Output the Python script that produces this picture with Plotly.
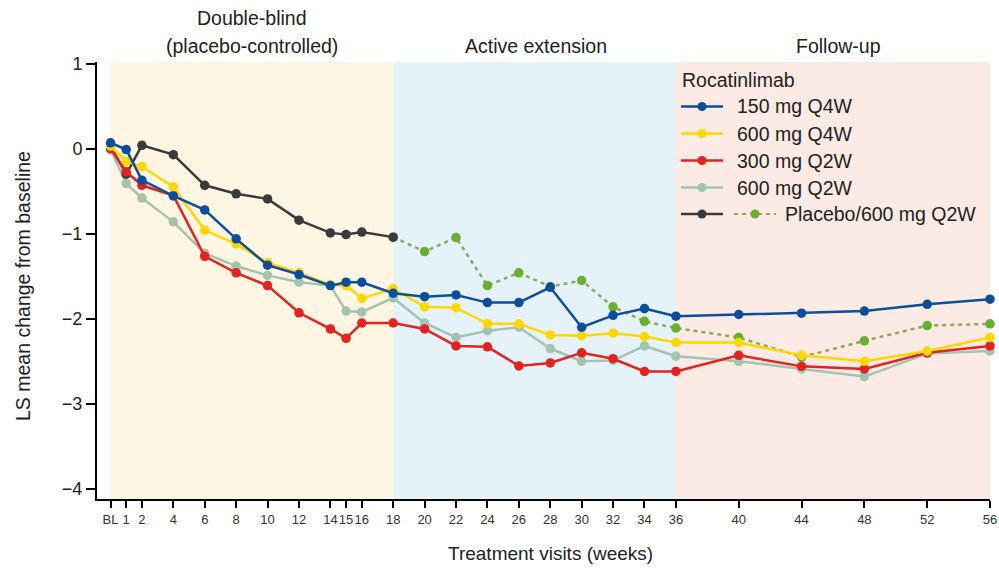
import plotly.graph_objects as go

# ---------------- data ----------------
weeks = [0, 1, 2, 4, 6, 8, 10, 12, 14, 15, 16, 18, 20, 22, 24, 26, 28, 30, 32, 34, 36, 40, 44, 48, 52, 56]
tick_labels = ["BL", "1", "2", "4", "6", "8", "10", "12", "14", "15", "16", "18", "20", "22", "24", "26",
               "28", "30", "32", "34", "36", "40", "44", "48", "52", "56"]

mg150_q4w = [0.07, -0.01, -0.37, -0.555, -0.72, -1.06, -1.37, -1.48, -1.61, -1.57, -1.57, -1.70, -1.74, -1.72,
             -1.81, -1.81, -1.63, -2.10, -1.96, -1.88, -1.97, -1.95, -1.935, -1.91, -1.83, -1.77]
mg600_q4w = [0.03, -0.15, -0.21, -0.45, -0.96, -1.12, -1.34, -1.46, -1.60, -1.61, -1.76, -1.645, -1.86, -1.87,
             -2.06, -2.06, -2.19, -2.20, -2.17, -2.21, -2.28, -2.28, -2.43, -2.50, -2.38, -2.22]
mg300_q2w = [0.0, -0.27, -0.43, -0.55, -1.265, -1.46, -1.61, -1.93, -2.12, -2.23, -2.05, -2.05, -2.12, -2.32,
             -2.33, -2.555, -2.52, -2.40, -2.47, -2.62, -2.62, -2.43, -2.56, -2.59, -2.40, -2.32]
mg600_q2w = [-0.01, -0.41, -0.58, -0.86, -1.23, -1.38, -1.49, -1.57, -1.61, -1.91, -1.92, -1.755, -2.05, -2.22,
             -2.14, -2.10, -2.35, -2.50, -2.49, -2.32, -2.44, -2.50, -2.59, -2.68, -2.41, -2.38]

placebo_weeks = [0, 1, 2, 4, 6, 8, 10, 12, 14, 15, 16, 18]
placebo = [0.03, -0.30, 0.04, -0.07, -0.43, -0.53, -0.59, -0.84, -0.99, -1.01, -0.98, -1.04]

switch_weeks = [18, 20, 22, 24, 26, 28, 30, 32, 34, 36, 40, 44, 48, 52, 56]
placebo_600 = [-1.04, -1.21, -1.045, -1.61, -1.46, -1.62, -1.55, -1.86, -2.03, -2.11, -2.22, -2.45, -2.26,
               -2.08, -2.06]

phase_starts = [0, 18, 36]
phase_ends = [18, 36, 56]
phase_colors = ["#FEF6E3", "#E6F2FA", "#FCEAE4"]

legend_title = "Rocatinlimab"
legend_names = ["150 mg Q4W", "600 mg Q4W", "300 mg Q2W", "600 mg Q2W", "Placebo/600 mg Q2W"]

# ---------------- styles ----------------
C_BLUE = "#0B4F9C"
C_YELLOW = "#FFD700"
C_RED = "#E3231F"
C_SAGE = "#A3C4AE"
C_DARK = "#3A3A3A"
C_GREEN_M = "#6AAF2E"
C_GREEN_L = "#8FA85C"
FONT = "Arial, Liberation Sans, sans-serif"
TXT = "#222"

W, H = 999, 571
PL, PR, PT, PB = 97, 990, 62, 499          # plot area in window pixels
ML, MR, MT, MB = PL, W - PR, PT, H - PB
PW, PH = W - ML - MR, H - MT - MB


def px(xp):
    return (xp - ML) / PW


def py(yp):
    return (H - MB - yp) / PH


fig = go.Figure()


def add_series(x, y, color, dash="solid", mcolor=None):
    fig.add_trace(go.Scatter(
        x=x, y=y, mode="lines+markers",
        line=dict(color=color, width=2.5, dash=dash),
        marker=dict(color=mcolor or color, size=9.5, line=dict(width=0)),
        showlegend=False, cliponaxis=False, hoverinfo="x+y"))


add_series(weeks, mg600_q2w, C_SAGE)
add_series(switch_weeks, placebo_600, C_GREEN_L, dash="4px,4px", mcolor=C_GREEN_M)
add_series(placebo_weeks, placebo, C_DARK)
add_series(weeks, mg300_q2w, C_RED)
add_series(weeks, mg600_q4w, C_YELLOW)
add_series(weeks, mg150_q4w, C_BLUE)

shapes = []
annotations = []
for x0, x1, col in zip(phase_starts, phase_ends, phase_colors):
    shapes.append(dict(type="rect", xref="x", yref="paper", x0=x0, x1=x1, y0=0, y1=1,
                       fillcolor=col, line=dict(width=0), layer="below"))


def text(t, xp, yp, size=19.5, xanchor="center"):
    annotations.append(dict(text=t, x=px(xp), y=py(yp), xref="paper", yref="paper",
                            xanchor=xanchor, yanchor="middle", showarrow=False,
                            font=dict(size=size, family=FONT, color=TXT)))


# phase headers
text("Double-blind", 252, 18)
text("(placebo-controlled)", 252, 46)
text("Active extension", 536, 46)
text("Follow-up", 838, 46)

# manual legend
text(legend_title, 680, 80, xanchor="left")
rows = [106.5, 133.5, 160.5, 187.5, 214]
cols = [C_BLUE, C_YELLOW, C_RED, C_SAGE, C_DARK]
for i, (name, yy, col) in enumerate(zip(legend_names, rows, cols)):
    shapes.append(dict(type="line", xref="paper", yref="paper", x0=px(681), x1=px(723),
                       y0=py(yy), y1=py(yy), line=dict(color=col, width=2.5)))
    shapes.append(dict(type="circle", xref="paper", yref="paper", xsizemode="pixel", ysizemode="pixel",
                       xanchor=px(702), yanchor=py(yy), x0=-4.5, x1=4.5, y0=-4.5, y1=4.5,
                       fillcolor=col, line=dict(width=0)))
    text(name, 735 if i < 4 else 783, yy, xanchor="left")
shapes.append(dict(type="line", xref="paper", yref="paper", x0=px(734), x1=px(776),
                   y0=py(214), y1=py(214), line=dict(color=C_GREEN_L, width=2.2, dash="4px,4px")))
shapes.append(dict(type="circle", xref="paper", yref="paper", xsizemode="pixel", ysizemode="pixel",
                   xanchor=px(755), yanchor=py(214), x0=-4.5, x1=4.5, y0=-4.5, y1=4.5,
                   fillcolor=C_GREEN_M, line=dict(width=0)))

# axis titles
text("Treatment visits (weeks)", 550, 553, size=19)
annotations.append(dict(text="LS mean change from baseline", x=px(23), y=py(286), xref="paper", yref="paper",
                        xanchor="center", yanchor="middle", textangle=-90, showarrow=False,
                        font=dict(size=19.5, family=FONT, color=TXT)))

fig.update_layout(
    width=W, height=H,
    margin=dict(l=ML, r=MR, t=MT, b=MB, pad=0, autoexpand=False),
    paper_bgcolor="white", plot_bgcolor="white",
    font=dict(family=FONT, color=TXT),
    shapes=shapes, annotations=annotations,
    showlegend=False,
    xaxis=dict(range=[-0.86, 56], tickmode="array", tickvals=weeks, ticktext=tick_labels,
               tickangle=0, automargin=False,
               showgrid=False, zeroline=False, showline=True, linecolor="black", linewidth=2,
               ticks="outside", ticklen=7, tickwidth=2, tickcolor="black",
               tickfont=dict(size=13, family=FONT, color="#333")),
    yaxis=dict(range=[-4.12, 1.02], tickvals=[-4, -3, -2, -1, 0, 1],
               ticktext=["\u22124", "\u22123", "\u22122", "\u22121", "0", "1"], automargin=False,
               showgrid=False, zeroline=False, showline=True, linecolor="black", linewidth=2,
               ticks="outside", ticklen=9, tickwidth=2, tickcolor="black",
               tickfont=dict(size=18, family=FONT, color=TXT)),
)

fig.write_html("out.html",
               config={"displayModeBar": False},
               post_script="document.body.style.margin='0';"
                           "document.documentElement.style.overflow='hidden';")
